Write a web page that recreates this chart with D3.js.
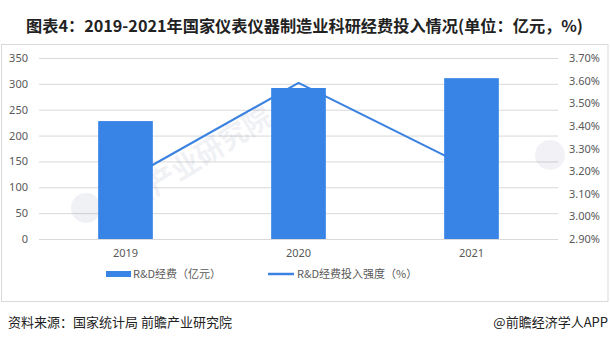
<!DOCTYPE html>
<html>
<head>
<meta charset="utf-8">
<script src="https://cdn.jsdelivr.net/npm/d3@7"></script>
<style>
  html, body { margin: 0; padding: 0; background: #fff; }
  svg { display: block; }
  text { font-family: "Microsoft YaHei", "Noto Sans CJK SC", sans-serif; }
</style>
</head>
<body>
<svg id="chart" width="610" height="339"></svg>
<script>
// R&D spending of instrument & meter manufacturing, 2019-2021
const years = ["2019", "2020", "2021"];
const rdSpending = [228, 292, 311];          // 亿元
const rdIntensity = [3.16, 3.59, 3.21];      // %
const leftTicks = [0, 50, 100, 150, 200, 250, 300, 350];
const rightTicks = [2.9, 3.0, 3.1, 3.2, 3.3, 3.4, 3.5, 3.6, 3.7];

const svg = d3.select("#chart");
const barColor = "#3783E6";
const lineColor = "#3C82E0";
const labelColor = "#595959";

const plot = { left: 39, right: 558, top: 58, bottom: 239 };

const x = d3.scaleBand().domain(years).range([plot.left, plot.right]).paddingInner(0.684).paddingOuter(0.342);
const yL = d3.scaleLinear().domain([0, 350]).range([plot.bottom, plot.top]);
const yR = d3.scaleLinear().domain([2.9, 3.7]).range([plot.bottom, plot.top]);

// Title
svg.append("text")
  .attr("x", 26).attr("y", 32)
  .attr("font-size", 16).attr("font-weight", "bold").attr("fill", "#222")
  .attr("textLength", 557).attr("lengthAdjust", "spacingAndGlyphs")
  .text("图表4：2019-2021年国家仪表仪器制造业科研经费投入情况(单位：亿元，%)");

// Chart frame
svg.append("rect")
  .attr("x", 1.5).attr("y", 44.5).attr("width", 606.5).attr("height", 257)
  .attr("fill", "none").attr("stroke", "#d9d9d9").attr("stroke-width", 1);

// Gridlines + left axis labels
const gLeft = svg.append("g").attr("transform", `translate(${plot.left},0)`)
  .call(d3.axisLeft(yL).tickValues(leftTicks).tickSize(-(plot.right - plot.left)).tickPadding(11));
gLeft.select(".domain").remove();
gLeft.selectAll(".tick line").attr("stroke", "#d9d9d9").attr("stroke-width", 1);
gLeft.selectAll(".tick text").attr("fill", labelColor).attr("font-size", 11)
  .style("font-family", "\"Microsoft YaHei\", \"Noto Sans\", sans-serif");

// Right axis labels
const gRight = svg.append("g").attr("transform", `translate(${plot.right},0)`)
  .call(d3.axisRight(yR).tickValues(rightTicks).tickSize(0).tickPadding(11).tickFormat(d => d.toFixed(2) + "%"));
gRight.select(".domain").remove();
gRight.selectAll(".tick text").attr("fill", labelColor).attr("font-size", 11)
  .style("font-family", "\"Microsoft YaHei\", \"Noto Sans\", sans-serif");

// Watermark
const wm = svg.append("g").attr("opacity", 0.06);
wm.append("text")
  .attr("transform", "translate(108,226) rotate(-32)")
  .attr("font-size", 28).attr("font-weight", "bold").attr("fill", "#1a2a6c")
  .text("前瞻产业研究院");
wm.append("circle").attr("cx", 86).attr("cy", 208).attr("r", 15).attr("fill", "#1a2a6c");
wm.append("circle").attr("cx", 550).attr("cy", 155).attr("r", 15).attr("fill", "#1a2a6c");

// Intensity line (drawn beneath the bars)
const line = d3.line()
  .x((d, i) => x(years[i]) + x.bandwidth() / 2)
  .y(d => yR(d));
svg.append("path")
  .datum(rdIntensity)
  .attr("d", line)
  .attr("fill", "none")
  .attr("stroke", lineColor)
  .attr("stroke-width", 2.2)
  .attr("stroke-linejoin", "miter");

// Bars
svg.append("g").selectAll("rect")
  .data(years)
  .join("rect")
  .attr("x", d => x(d))
  .attr("width", x.bandwidth())
  .attr("y", (d, i) => yL(rdSpending[i]))
  .attr("height", (d, i) => yL(0) - yL(rdSpending[i]))
  .attr("fill", barColor);

// X axis labels
const gX = svg.append("g").attr("transform", `translate(0,${plot.bottom})`)
  .call(d3.axisBottom(x).tickSize(0).tickPadding(10));
gX.select(".domain").remove();
gX.selectAll(".tick text").attr("fill", labelColor).attr("font-size", 11)
  .style("font-family", "\"Microsoft YaHei\", \"Noto Sans\", sans-serif");

// Legend
const legend = svg.append("g");
legend.append("rect").attr("x", 106).attr("y", 271).attr("width", 25).attr("height", 6).attr("fill", barColor);
legend.append("text").attr("x", 133).attr("y", 278).attr("font-size", 11).attr("fill", labelColor)
  .text("R&D经费（亿元）");
legend.append("line").attr("x1", 268).attr("x2", 294).attr("y1", 274).attr("y2", 274)
  .attr("stroke", lineColor).attr("stroke-width", 2.5);
legend.append("text").attr("x", 297).attr("y", 278).attr("font-size", 11).attr("fill", labelColor)
  .text("R&D经费投入强度（%）");

// Source / credit
svg.append("text").attr("x", 8).attr("y", 327).attr("font-size", 13).attr("fill", "#222")
  .text("资料来源：国家统计局 前瞻产业研究院");
svg.append("text").attr("x", 608).attr("y", 327).attr("font-size", 13).attr("fill", "#222")
  .attr("text-anchor", "end")
  .text("@前瞻经济学人APP");
</script>
</body>
</html>
